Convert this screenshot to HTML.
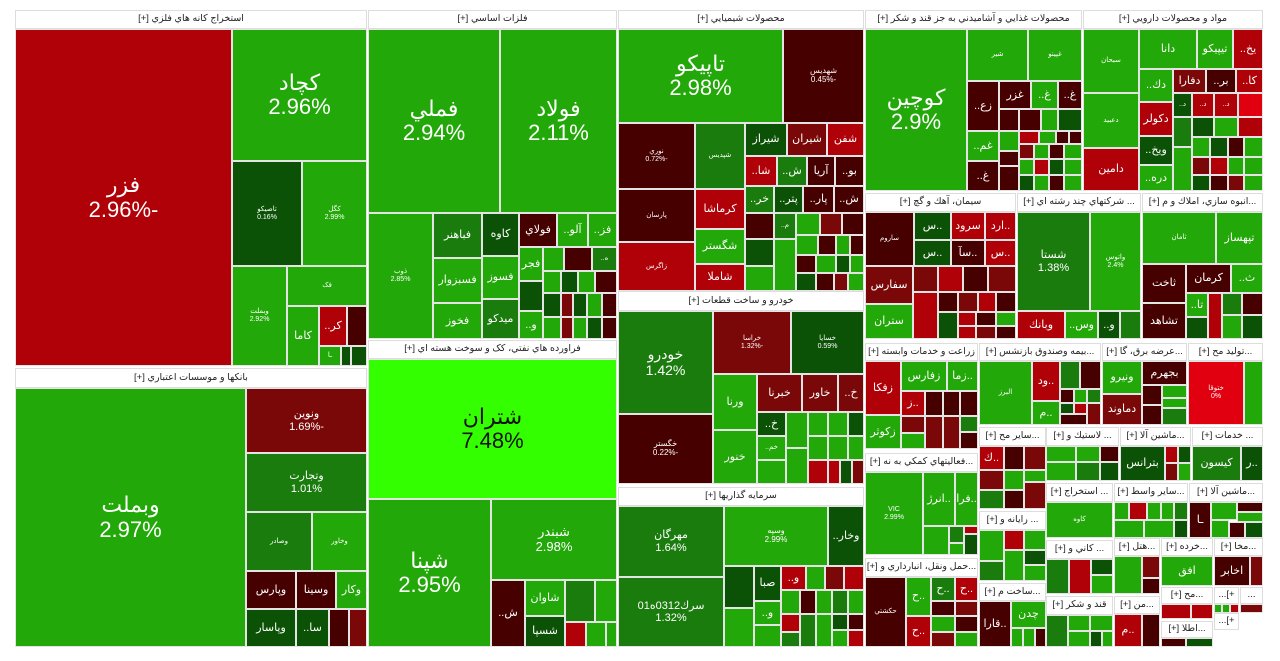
<!DOCTYPE html>
<html><head><meta charset="utf-8">
<style>
body{margin:0;width:1280px;height:661px;background:#fff;position:relative;overflow:hidden}
.c{position:absolute;box-sizing:border-box;border:1px solid #e4e4e4;color:#fff;display:flex;flex-direction:column;align-items:center;justify-content:center;text-align:center;font-family:"Liberation Sans","DejaVu Sans",sans-serif;overflow:hidden;line-height:1.1;font-size:10px;direction:rtl}
.h{background:#fff;color:#222;border:1px solid #ddd;font-size:9.5px}
.g{background:#22a808}.g2{background:#1b7c0e}.g3{background:#0c5206}
.r{background:#b00008}.r2{background:#7a0808}.r3{background:#460000}
.lg{background:#33ff00;color:#111}.rb{background:#e00010}
.b{font-size:22px}.m{font-size:11px}.s{font-size:7px}
</style></head><body>
<!-- column 1 -->
<div class="c h" style="left:15px;top:10px;width:352px;height:19px">استخراج کانه هاي فلزي [+]</div>
<div class="c r b" style="left:15px;top:29px;width:217px;height:337px">فزر<br>-2.96%</div>
<div class="c g b" style="left:232px;top:29px;width:135px;height:132px">کچاد<br>2.96%</div>
<div class="c g3 s" style="left:232px;top:161px;width:70px;height:105px">تاصيکو<br>0.16%</div>
<div class="c g s" style="left:302px;top:161px;width:65px;height:105px">کگل<br>2.99%</div>
<div class="c g s" style="left:232px;top:266px;width:55px;height:100px">وبملت<br>2.92%</div>
<div class="c g s" style="left:287px;top:266px;width:80px;height:40px">فک</div>
<div class="c g m" style="left:287px;top:306px;width:32px;height:60px">کاما</div>
<div class="c r m" style="left:319px;top:306px;width:28px;height:40px">کر..</div>
<div class="c r3" style="left:347px;top:306px;width:20px;height:40px"></div>
<div class="c g s" style="left:319px;top:346px;width:22px;height:20px">ـا</div>
<div class="c g3" style="left:341px;top:346px;width:10px;height:20px"></div>
<div class="c g3" style="left:351px;top:346px;width:16px;height:20px"></div>

<div class="c h" style="left:15px;top:368px;width:352px;height:20px">بانکها و موسسات اعتباري [+]</div>
<div class="c g b" style="left:15px;top:388px;width:231px;height:259px">وبملت<br>2.97%</div>
<div class="c r2 m" style="left:246px;top:388px;width:121px;height:65px">ونوين<br>-1.69%</div>
<div class="c g2 m" style="left:246px;top:453px;width:121px;height:59px">وتجارت<br>1.01%</div>
<div class="c g2 s" style="left:246px;top:512px;width:66px;height:59px">وصادر</div>
<div class="c g s" style="left:312px;top:512px;width:55px;height:59px">وخاور</div>
<div class="c r3 m" style="left:246px;top:571px;width:50px;height:38px">وپارس</div>
<div class="c r3 m" style="left:296px;top:571px;width:40px;height:38px">وسينا</div>
<div class="c g m" style="left:336px;top:571px;width:31px;height:38px">وکار</div>
<div class="c g3 m" style="left:246px;top:609px;width:50px;height:38px">وپاسار</div>
<div class="c g3 m" style="left:296px;top:609px;width:33px;height:38px">سا..</div>
<div class="c r3" style="left:329px;top:609px;width:20px;height:38px"></div>
<div class="c r2" style="left:349px;top:609px;width:18px;height:38px"></div>

<!-- column 2 -->
<div class="c h" style="left:368px;top:10px;width:249px;height:19px">فلزات اساسي [+]</div>
<div class="c g b" style="left:368px;top:29px;width:132px;height:184px">فملي<br>2.94%</div>
<div class="c g b" style="left:500px;top:29px;width:117px;height:184px">فولاد<br>2.11%</div>
<div class="c g s" style="left:368px;top:213px;width:65px;height:126px">ذوب<br>2.85%</div>
<div class="c g2 m" style="left:433px;top:213px;width:49px;height:45px">فباهنر</div>
<div class="c g m" style="left:433px;top:258px;width:49px;height:45px">فسبزوار</div>
<div class="c g m" style="left:433px;top:303px;width:49px;height:36px">فخوز</div>
<div class="c g3 m" style="left:482px;top:213px;width:37px;height:43px">کاوه</div>
<div class="c g m" style="left:482px;top:256px;width:37px;height:43px">فسوز</div>
<div class="c g2 m" style="left:482px;top:299px;width:37px;height:40px">ميدکو</div>
<div class="c r3 m" style="left:519px;top:213px;width:38px;height:34px">فولاي</div>
<div class="c g m" style="left:557px;top:213px;width:31px;height:34px">آلو..</div>
<div class="c g m" style="left:588px;top:213px;width:29px;height:34px">فز..</div>
<div class="c g m" style="left:519px;top:247px;width:24px;height:34px">فجر</div>
<div class="c g" style="left:543px;top:247px;width:21px;height:24px"></div>
<div class="c r3" style="left:564px;top:247px;width:28px;height:24px"></div>
<div class="c g2 s" style="left:592px;top:247px;width:25px;height:24px">ه..</div>
<div class="c g3" style="left:519px;top:281px;width:24px;height:30px"></div>
<div class="c g m" style="left:519px;top:311px;width:24px;height:28px">و..</div>
<div class="c g" style="left:543px;top:271px;width:18px;height:22px"></div>
<div class="c g3" style="left:561px;top:271px;width:17px;height:22px"></div>
<div class="c g" style="left:578px;top:271px;width:17px;height:22px"></div>
<div class="c r3" style="left:595px;top:271px;width:22px;height:22px"></div>
<div class="c g3" style="left:543px;top:293px;width:18px;height:24px"></div>
<div class="c r2" style="left:561px;top:293px;width:12px;height:24px"></div>
<div class="c g3" style="left:573px;top:293px;width:14px;height:24px"></div>
<div class="c g" style="left:587px;top:293px;width:15px;height:24px"></div>
<div class="c r3" style="left:602px;top:293px;width:15px;height:24px"></div>
<div class="c g" style="left:543px;top:317px;width:18px;height:22px"></div>
<div class="c r2" style="left:561px;top:317px;width:12px;height:22px"></div>
<div class="c g" style="left:573px;top:317px;width:14px;height:22px"></div>
<div class="c g3" style="left:587px;top:317px;width:15px;height:22px"></div>
<div class="c r3" style="left:602px;top:317px;width:15px;height:22px"></div>

<div class="c h" style="left:368px;top:340px;width:249px;height:19px">فراورده هاي نفتي، کک و سوخت هسته اي [+]</div>
<div class="c lg b" style="left:368px;top:359px;width:249px;height:140px">شتران<br>7.48%</div>
<div class="c g b" style="left:368px;top:499px;width:123px;height:148px">شپنا<br>2.95%</div>
<div class="c g" style="left:491px;top:499px;width:126px;height:81px;font-size:13px">شبندر<br>2.98%</div>
<div class="c r3 m" style="left:491px;top:580px;width:34px;height:67px">ش..</div>
<div class="c g m" style="left:525px;top:580px;width:40px;height:36px">شاوان</div>
<div class="c g3 m" style="left:525px;top:616px;width:40px;height:31px">شسپا</div>
<div class="c g2" style="left:565px;top:580px;width:30px;height:42px"></div>
<div class="c g" style="left:595px;top:580px;width:22px;height:42px"></div>
<div class="c r" style="left:565px;top:622px;width:21px;height:25px"></div>
<div class="c g" style="left:586px;top:622px;width:20px;height:25px"></div>
<div class="c g" style="left:606px;top:622px;width:11px;height:25px"></div>

<!-- column 3 -->
<div class="c h" style="left:618px;top:10px;width:246px;height:19px">محصولات شيميايي [+]</div>
<div class="c g b" style="left:618px;top:29px;width:165px;height:94px">تاپيکو<br>2.98%</div>
<div class="c r3 s" style="left:783px;top:29px;width:81px;height:94px;font-size:8px">شهديس<br>-0.45%</div>
<div class="c r3 s" style="left:618px;top:123px;width:77px;height:66px">نوري<br>-0.72%</div>
<div class="c r3 s" style="left:618px;top:189px;width:77px;height:53px">پارسان</div>
<div class="c r s" style="left:618px;top:242px;width:77px;height:49px">زاگرس</div>
<div class="c g2 s" style="left:695px;top:123px;width:50px;height:66px">شپديس</div>
<div class="c r m" style="left:695px;top:189px;width:50px;height:40px">کرماشا</div>
<div class="c g m" style="left:695px;top:229px;width:50px;height:35px">شگستر</div>
<div class="c r m" style="left:695px;top:264px;width:50px;height:27px">شاملا</div>
<div class="c g3 m" style="left:745px;top:123px;width:42px;height:33px">شيراز</div>
<div class="c r2 m" style="left:787px;top:123px;width:40px;height:33px">شيران</div>
<div class="c r m" style="left:827px;top:123px;width:37px;height:33px">شفن</div>
<div class="c r m" style="left:745px;top:156px;width:32px;height:30px">شا..</div>
<div class="c g2 m" style="left:777px;top:156px;width:30px;height:30px">ش..</div>
<div class="c r3 m" style="left:807px;top:156px;width:28px;height:30px">آريا</div>
<div class="c r3 m" style="left:835px;top:156px;width:29px;height:30px">بو..</div>
<div class="c g2 m" style="left:745px;top:186px;width:29px;height:27px">خر..</div>
<div class="c g3 m" style="left:774px;top:186px;width:29px;height:27px">پتر..</div>
<div class="c r3 m" style="left:803px;top:186px;width:31px;height:27px">پار..</div>
<div class="c r3 m" style="left:834px;top:186px;width:30px;height:27px">ش..</div>
<div class="c r3" style="left:745px;top:213px;width:29px;height:26px"></div>
<div class="c g2 s" style="left:774px;top:213px;width:22px;height:26px">م..</div>
<div class="c g" style="left:796px;top:213px;width:24px;height:22px"></div>
<div class="c r2" style="left:820px;top:213px;width:22px;height:22px"></div>
<div class="c r3" style="left:842px;top:213px;width:22px;height:22px"></div>
<div class="c g3" style="left:745px;top:239px;width:29px;height:27px"></div>
<div class="c g" style="left:745px;top:266px;width:29px;height:25px"></div>
<div class="c g" style="left:774px;top:239px;width:22px;height:52px"></div>
<div class="c g" style="left:796px;top:235px;width:22px;height:20px"></div>
<div class="c r3" style="left:818px;top:235px;width:18px;height:20px"></div>
<div class="c g" style="left:836px;top:235px;width:14px;height:20px"></div>
<div class="c r3" style="left:850px;top:235px;width:14px;height:20px"></div>
<div class="c r3" style="left:796px;top:255px;width:20px;height:18px"></div>
<div class="c g" style="left:816px;top:255px;width:20px;height:18px"></div>
<div class="c g3" style="left:836px;top:255px;width:14px;height:18px"></div>
<div class="c g" style="left:850px;top:255px;width:14px;height:18px"></div>
<div class="c g3" style="left:796px;top:273px;width:20px;height:18px"></div>
<div class="c r3" style="left:816px;top:273px;width:18px;height:18px"></div>
<div class="c r2" style="left:834px;top:273px;width:14px;height:18px"></div>
<div class="c g" style="left:848px;top:273px;width:16px;height:18px"></div>

<div class="c h" style="left:618px;top:291px;width:246px;height:20px">خودرو و ساخت قطعات [+]</div>
<div class="c g2" style="left:618px;top:311px;width:95px;height:103px;font-size:14px">خودرو<br>1.42%</div>
<div class="c r3 s" style="left:618px;top:414px;width:95px;height:70px;font-size:8px">خگستر<br>-0.22%</div>
<div class="c r2 s" style="left:713px;top:311px;width:78px;height:63px">خراسا<br>-1.32%</div>
<div class="c g3 s" style="left:791px;top:311px;width:73px;height:63px">خسايا<br>0.59%</div>
<div class="c g m" style="left:713px;top:374px;width:44px;height:56px">ورنا</div>
<div class="c g m" style="left:713px;top:430px;width:44px;height:54px">خنور</div>
<div class="c r2 m" style="left:757px;top:374px;width:45px;height:38px">خبرنا</div>
<div class="c r2 m" style="left:802px;top:374px;width:36px;height:38px">خاور</div>
<div class="c r2 m" style="left:838px;top:374px;width:26px;height:38px">خ..</div>
<div class="c g3 m" style="left:757px;top:412px;width:29px;height:24px">خ..</div>
<div class="c g s" style="left:757px;top:436px;width:29px;height:24px">خم..</div>
<div class="c g" style="left:757px;top:460px;width:29px;height:24px"></div>
<div class="c g" style="left:786px;top:412px;width:22px;height:36px"></div>
<div class="c g" style="left:808px;top:412px;width:20px;height:24px"></div>
<div class="c g" style="left:828px;top:412px;width:20px;height:24px"></div>
<div class="c g3" style="left:848px;top:412px;width:16px;height:24px"></div>
<div class="c g" style="left:808px;top:436px;width:20px;height:24px"></div>
<div class="c g" style="left:828px;top:436px;width:20px;height:24px"></div>
<div class="c g" style="left:848px;top:436px;width:16px;height:24px"></div>
<div class="c g" style="left:786px;top:448px;width:22px;height:36px"></div>
<div class="c r" style="left:808px;top:460px;width:20px;height:24px"></div>
<div class="c r" style="left:828px;top:460px;width:12px;height:24px"></div>
<div class="c g3" style="left:840px;top:460px;width:12px;height:24px"></div>
<div class="c r2" style="left:852px;top:460px;width:12px;height:24px"></div>

<div class="c h" style="left:618px;top:487px;width:246px;height:19px">سرمايه گذاريها [+]</div>
<div class="c g2" style="left:618px;top:506px;width:106px;height:71px;font-size:11px">مهرگان<br>1.64%</div>
<div class="c g2" style="left:618px;top:577px;width:106px;height:70px;font-size:11px">سرك0312ه01<br>1.32%</div>
<div class="c g s" style="left:724px;top:506px;width:104px;height:60px;font-size:8px">وسپه<br>2.99%</div>
<div class="c g3 m" style="left:828px;top:506px;width:36px;height:60px">وخار..</div>
<div class="c g3" style="left:724px;top:566px;width:30px;height:42px"></div>
<div class="c g" style="left:724px;top:608px;width:30px;height:39px"></div>
<div class="c g3 m" style="left:754px;top:566px;width:27px;height:35px">صبا</div>
<div class="c g m" style="left:754px;top:601px;width:27px;height:24px">و..</div>
<div class="c g" style="left:754px;top:625px;width:27px;height:22px"></div>
<div class="c r m" style="left:781px;top:566px;width:25px;height:24px">و..</div>
<div class="c g" style="left:806px;top:566px;width:19px;height:24px"></div>
<div class="c r2" style="left:825px;top:566px;width:19px;height:24px"></div>
<div class="c r" style="left:844px;top:566px;width:20px;height:24px"></div>
<div class="c g" style="left:781px;top:590px;width:19px;height:24px"></div>
<div class="c r3" style="left:800px;top:590px;width:16px;height:24px"></div>
<div class="c g" style="left:816px;top:590px;width:16px;height:24px"></div>
<div class="c g2" style="left:832px;top:590px;width:16px;height:24px"></div>
<div class="c g" style="left:848px;top:590px;width:16px;height:24px"></div>
<div class="c r" style="left:781px;top:614px;width:19px;height:18px"></div>
<div class="c g2" style="left:781px;top:632px;width:19px;height:15px"></div>
<div class="c g2" style="left:800px;top:614px;width:16px;height:33px"></div>
<div class="c g" style="left:816px;top:614px;width:16px;height:33px"></div>
<div class="c g3" style="left:832px;top:614px;width:16px;height:16px"></div>
<div class="c r3" style="left:848px;top:614px;width:16px;height:16px"></div>
<div class="c g" style="left:832px;top:630px;width:16px;height:17px"></div>
<div class="c r" style="left:848px;top:630px;width:16px;height:17px"></div>

<!-- column 4 row A -->
<div class="c h" style="left:865px;top:10px;width:217px;height:19px">محصولات غذايي و آشاميدني به جز قند و شکر [+]</div>
<div class="c g b" style="left:865px;top:29px;width:102px;height:162px">کوچين<br>2.9%</div>
<div class="c g s" style="left:967px;top:29px;width:61px;height:52px">شير</div>
<div class="c g s" style="left:1028px;top:29px;width:54px;height:52px">غپينو</div>
<div class="c r3 m" style="left:967px;top:81px;width:32px;height:50px">زع..</div>
<div class="c g m" style="left:967px;top:131px;width:32px;height:30px">غم..</div>
<div class="c r3 m" style="left:967px;top:161px;width:32px;height:30px">غ..</div>
<div class="c r3 m" style="left:999px;top:81px;width:32px;height:28px">غزر</div>
<div class="c g m" style="left:1031px;top:81px;width:27px;height:28px">غ..</div>
<div class="c r3 m" style="left:1058px;top:81px;width:24px;height:28px">غ..</div>
<div class="c r3" style="left:999px;top:109px;width:20px;height:22px"></div>
<div class="c r3" style="left:1019px;top:109px;width:22px;height:22px"></div>
<div class="c g" style="left:1041px;top:109px;width:17px;height:22px"></div>
<div class="c g3" style="left:1058px;top:109px;width:24px;height:22px"></div>
<div class="c g" style="left:999px;top:131px;width:20px;height:20px"></div>
<div class="c r" style="left:1019px;top:131px;width:20px;height:13px"></div>
<div class="c g" style="left:1039px;top:131px;width:17px;height:13px"></div>
<div class="c r3" style="left:1056px;top:131px;width:13px;height:13px"></div>
<div class="c r3" style="left:1069px;top:131px;width:13px;height:13px"></div>
<div class="c r3" style="left:999px;top:151px;width:20px;height:15px"></div>
<div class="c r3" style="left:999px;top:166px;width:20px;height:25px"></div>
<div class="c r2" style="left:1019px;top:144px;width:15px;height:15px"></div>
<div class="c g" style="left:1034px;top:144px;width:15px;height:15px"></div>
<div class="c r3" style="left:1049px;top:144px;width:15px;height:15px"></div>
<div class="c g" style="left:1064px;top:144px;width:18px;height:15px"></div>
<div class="c g" style="left:1019px;top:159px;width:15px;height:16px"></div>
<div class="c r" style="left:1034px;top:159px;width:15px;height:16px"></div>
<div class="c g3" style="left:1049px;top:159px;width:15px;height:16px"></div>
<div class="c g" style="left:1064px;top:159px;width:18px;height:16px"></div>
<div class="c g3" style="left:1019px;top:175px;width:15px;height:16px"></div>
<div class="c g" style="left:1034px;top:175px;width:15px;height:16px"></div>
<div class="c r3" style="left:1049px;top:175px;width:15px;height:16px"></div>
<div class="c g" style="left:1064px;top:175px;width:18px;height:16px"></div>

<div class="c h" style="left:1083px;top:10px;width:180px;height:19px">مواد و محصولات دارويي [+]</div>
<div class="c g s" style="left:1083px;top:29px;width:56px;height:64px">سبحان</div>
<div class="c g s" style="left:1083px;top:93px;width:56px;height:55px">دعبيد</div>
<div class="c r m" style="left:1083px;top:148px;width:56px;height:43px">دامين</div>
<div class="c g m" style="left:1139px;top:29px;width:58px;height:40px">دانا</div>
<div class="c g m" style="left:1139px;top:69px;width:34px;height:33px">دك..</div>
<div class="c r m" style="left:1139px;top:102px;width:34px;height:34px">دکولر</div>
<div class="c g3 m" style="left:1139px;top:136px;width:34px;height:29px">ويخ..</div>
<div class="c g m" style="left:1139px;top:165px;width:34px;height:26px">دره..</div>
<div class="c g m" style="left:1197px;top:29px;width:36px;height:40px">تيپيکو</div>
<div class="c r m" style="left:1233px;top:29px;width:30px;height:40px">يخ..</div>
<div class="c r2 m" style="left:1173px;top:69px;width:33px;height:24px">دفارا</div>
<div class="c r3 m" style="left:1206px;top:69px;width:30px;height:24px">بر..</div>
<div class="c r m" style="left:1236px;top:69px;width:27px;height:24px">کا..</div>
<div class="c g3 s" style="left:1173px;top:93px;width:19px;height:24px">د..</div>
<div class="c r s" style="left:1192px;top:93px;width:22px;height:24px">د..</div>
<div class="c r s" style="left:1214px;top:93px;width:24px;height:24px">د..</div>
<div class="c rb" style="left:1238px;top:93px;width:25px;height:24px"></div>
<div class="c g2" style="left:1173px;top:117px;width:19px;height:30px"></div>
<div class="c g3" style="left:1192px;top:117px;width:22px;height:20px"></div>
<div class="c g" style="left:1214px;top:117px;width:24px;height:20px"></div>
<div class="c r" style="left:1238px;top:117px;width:25px;height:20px"></div>
<div class="c g" style="left:1192px;top:137px;width:18px;height:20px"></div>
<div class="c g3" style="left:1210px;top:137px;width:18px;height:20px"></div>
<div class="c r3" style="left:1228px;top:137px;width:16px;height:20px"></div>
<div class="c g" style="left:1244px;top:137px;width:19px;height:20px"></div>
<div class="c g" style="left:1173px;top:147px;width:19px;height:44px"></div>
<div class="c r2" style="left:1192px;top:157px;width:18px;height:18px"></div>
<div class="c r" style="left:1210px;top:157px;width:18px;height:18px"></div>
<div class="c g" style="left:1228px;top:157px;width:16px;height:18px"></div>
<div class="c g" style="left:1244px;top:157px;width:19px;height:18px"></div>
<div class="c g3" style="left:1192px;top:175px;width:18px;height:16px"></div>
<div class="c r3" style="left:1210px;top:175px;width:18px;height:16px"></div>
<div class="c r2" style="left:1228px;top:175px;width:16px;height:16px"></div>
<div class="c g" style="left:1244px;top:175px;width:19px;height:16px"></div>

<!-- row B -->
<div class="c h" style="left:865px;top:193px;width:151px;height:19px">سيمان، آهك و گچ [+]</div>
<div class="c r3 s" style="left:865px;top:212px;width:49px;height:54px">ساروم</div>
<div class="c g3 m" style="left:914px;top:212px;width:37px;height:28px">..س</div>
<div class="c g3 m" style="left:914px;top:240px;width:37px;height:26px">..س</div>
<div class="c r m" style="left:951px;top:212px;width:34px;height:28px">سرود</div>
<div class="c r3 m" style="left:951px;top:240px;width:34px;height:26px">..سآ</div>
<div class="c r m" style="left:985px;top:212px;width:31px;height:28px">..ارد</div>
<div class="c r m" style="left:985px;top:240px;width:31px;height:26px">..س</div>
<div class="c r2 m" style="left:865px;top:266px;width:48px;height:38px">سفارس</div>
<div class="c g m" style="left:865px;top:304px;width:48px;height:35px">ستران</div>
<div class="c r2" style="left:913px;top:266px;width:25px;height:26px"></div>
<div class="c r" style="left:938px;top:266px;width:25px;height:26px"></div>
<div class="c r3" style="left:963px;top:266px;width:25px;height:26px"></div>
<div class="c r2" style="left:988px;top:266px;width:28px;height:26px"></div>
<div class="c r" style="left:913px;top:292px;width:25px;height:47px"></div>
<div class="c r3" style="left:938px;top:292px;width:20px;height:20px"></div>
<div class="c r2" style="left:958px;top:292px;width:20px;height:20px"></div>
<div class="c r" style="left:978px;top:292px;width:18px;height:20px"></div>
<div class="c r3" style="left:996px;top:292px;width:20px;height:20px"></div>
<div class="c g3" style="left:938px;top:312px;width:20px;height:27px"></div>
<div class="c r" style="left:958px;top:312px;width:18px;height:14px"></div>
<div class="c r3" style="left:976px;top:312px;width:20px;height:14px"></div>
<div class="c g" style="left:996px;top:312px;width:20px;height:14px"></div>
<div class="c r" style="left:958px;top:326px;width:18px;height:13px"></div>
<div class="c r2" style="left:976px;top:326px;width:20px;height:13px"></div>
<div class="c r3" style="left:996px;top:326px;width:20px;height:13px"></div>

<div class="c h" style="left:1017px;top:193px;width:124px;height:19px">... شرکتهاي چند رشته اي [+]</div>
<div class="c g2 m" style="left:1017px;top:212px;width:73px;height:99px">شستا<br>1.38%</div>
<div class="c g s" style="left:1090px;top:212px;width:51px;height:99px">واتوس<br>2.4%</div>
<div class="c r m" style="left:1017px;top:311px;width:48px;height:28px">وبانك</div>
<div class="c g m" style="left:1065px;top:311px;width:33px;height:28px">وس..</div>
<div class="c g3 m" style="left:1098px;top:311px;width:22px;height:28px">و..</div>
<div class="c g2" style="left:1120px;top:311px;width:21px;height:28px"></div>

<div class="c h" style="left:1142px;top:193px;width:121px;height:19px">...انبوه سازي، املاك و م [+]</div>
<div class="c g s" style="left:1142px;top:212px;width:74px;height:52px">ثامان</div>
<div class="c g m" style="left:1216px;top:212px;width:47px;height:52px">تپهساز</div>
<div class="c r3 m" style="left:1142px;top:264px;width:44px;height:39px">ثاخت</div>
<div class="c r3 m" style="left:1142px;top:303px;width:44px;height:36px">تشاهد</div>
<div class="c r3 m" style="left:1186px;top:264px;width:45px;height:29px">كرمان</div>
<div class="c g m" style="left:1231px;top:264px;width:32px;height:29px">ث..</div>
<div class="c g m" style="left:1186px;top:293px;width:22px;height:24px">تا..</div>
<div class="c g3" style="left:1186px;top:317px;width:22px;height:22px"></div>
<div class="c r" style="left:1208px;top:293px;width:14px;height:46px"></div>
<div class="c g2" style="left:1222px;top:293px;width:20px;height:22px"></div>
<div class="c r3" style="left:1242px;top:293px;width:21px;height:22px"></div>
<div class="c g" style="left:1222px;top:315px;width:20px;height:24px"></div>
<div class="c g3" style="left:1242px;top:315px;width:21px;height:24px"></div>

<!-- row C left: زراعت, فعالیتها, حمل -->
<div class="c h" style="left:865px;top:343px;width:113px;height:18px">زراعت و خدمات وابسته [+]</div>
<div class="c r m" style="left:865px;top:361px;width:36px;height:54px">زفکا</div>
<div class="c g m" style="left:865px;top:415px;width:36px;height:34px">زکوثر</div>
<div class="c g m" style="left:901px;top:361px;width:46px;height:30px">زفارس</div>
<div class="c g m" style="left:947px;top:361px;width:31px;height:30px">..زما</div>
<div class="c r m" style="left:901px;top:391px;width:24px;height:25px">..ز</div>
<div class="c r3" style="left:925px;top:391px;width:18px;height:25px"></div>
<div class="c r3" style="left:943px;top:391px;width:17px;height:25px"></div>
<div class="c r3" style="left:960px;top:391px;width:18px;height:25px"></div>
<div class="c r2" style="left:901px;top:416px;width:24px;height:17px"></div>
<div class="c g" style="left:901px;top:433px;width:24px;height:16px"></div>
<div class="c r2" style="left:925px;top:416px;width:18px;height:33px"></div>
<div class="c r2" style="left:943px;top:416px;width:17px;height:33px"></div>
<div class="c g2" style="left:960px;top:416px;width:18px;height:16px"></div>
<div class="c r3" style="left:960px;top:432px;width:18px;height:17px"></div>

<div class="c h" style="left:865px;top:453px;width:113px;height:19px">...فعاليتهاي کمکي به نه [+]</div>
<div class="c g s" style="left:865px;top:472px;width:58px;height:83px">VIC<br>2.99%</div>
<div class="c g m" style="left:923px;top:472px;width:32px;height:54px">..انرژ</div>
<div class="c g m" style="left:955px;top:472px;width:23px;height:54px">..فرا</div>
<div class="c g" style="left:923px;top:526px;width:26px;height:29px"></div>
<div class="c g2" style="left:949px;top:526px;width:15px;height:17px"></div>
<div class="c r" style="left:964px;top:526px;width:14px;height:8px"></div>
<div class="c g3" style="left:964px;top:534px;width:14px;height:21px"></div>
<div class="c g" style="left:949px;top:543px;width:15px;height:12px"></div>

<div class="c h" style="left:865px;top:558px;width:113px;height:19px">...حمل ونقل، انبارداري و [+]</div>
<div class="c r3 s" style="left:865px;top:577px;width:41px;height:70px">حکشتي</div>
<div class="c g m" style="left:906px;top:577px;width:25px;height:39px">..ح</div>
<div class="c g2 m" style="left:931px;top:577px;width:24px;height:24px">..ح</div>
<div class="c r m" style="left:955px;top:577px;width:23px;height:24px">..ح</div>
<div class="c r3" style="left:931px;top:601px;width:24px;height:15px"></div>
<div class="c r2" style="left:955px;top:601px;width:23px;height:15px"></div>
<div class="c r m" style="left:906px;top:616px;width:25px;height:31px">..ح</div>
<div class="c g" style="left:931px;top:616px;width:24px;height:16px"></div>
<div class="c r3" style="left:955px;top:616px;width:23px;height:16px"></div>
<div class="c r2" style="left:931px;top:632px;width:24px;height:15px"></div>
<div class="c g" style="left:955px;top:632px;width:23px;height:15px"></div>

<!-- بیمه column -->
<div class="c h" style="left:979px;top:343px;width:122px;height:18px">...بيمه وصندوق بازنشس [+]</div>
<div class="c g s" style="left:979px;top:361px;width:53px;height:64px">البرز</div>
<div class="c r m" style="left:1032px;top:361px;width:28px;height:40px">..ود</div>
<div class="c g m" style="left:1032px;top:401px;width:28px;height:24px">..م</div>
<div class="c g2" style="left:1060px;top:361px;width:20px;height:28px"></div>
<div class="c r3" style="left:1080px;top:361px;width:21px;height:28px"></div>
<div class="c r3" style="left:1060px;top:389px;width:14px;height:14px"></div>
<div class="c g" style="left:1074px;top:389px;width:13px;height:14px"></div>
<div class="c g2" style="left:1087px;top:389px;width:14px;height:14px"></div>
<div class="c g3" style="left:1060px;top:403px;width:14px;height:11px"></div>
<div class="c r" style="left:1074px;top:403px;width:13px;height:11px"></div>
<div class="c r2" style="left:1087px;top:403px;width:14px;height:22px"></div>
<div class="c r3" style="left:1060px;top:414px;width:27px;height:11px"></div>

<div class="c h" style="left:979px;top:427px;width:67px;height:19px">...ساير مح [+]</div>
<div class="c r m" style="left:979px;top:446px;width:25px;height:24px">..ك</div>
<div class="c r3" style="left:1004px;top:446px;width:20px;height:24px"></div>
<div class="c r2" style="left:1024px;top:446px;width:22px;height:24px"></div>
<div class="c r2" style="left:979px;top:470px;width:25px;height:20px"></div>
<div class="c g" style="left:1004px;top:470px;width:20px;height:20px"></div>
<div class="c g" style="left:1024px;top:470px;width:22px;height:12px"></div>
<div class="c g2" style="left:979px;top:490px;width:25px;height:19px"></div>
<div class="c r3" style="left:1004px;top:490px;width:20px;height:19px"></div>
<div class="c r2" style="left:1024px;top:482px;width:22px;height:27px"></div>

<div class="c h" style="left:979px;top:511px;width:67px;height:19px">... رايانه و [+]</div>
<div class="c g" style="left:979px;top:530px;width:25px;height:31px"></div>
<div class="c r" style="left:1004px;top:530px;width:20px;height:20px"></div>
<div class="c g" style="left:1024px;top:530px;width:22px;height:20px"></div>
<div class="c g2" style="left:979px;top:561px;width:25px;height:20px"></div>
<div class="c g" style="left:1004px;top:550px;width:20px;height:31px"></div>
<div class="c g3" style="left:1024px;top:550px;width:22px;height:15px"></div>
<div class="c g" style="left:1024px;top:565px;width:22px;height:16px"></div>

<div class="c h" style="left:979px;top:583px;width:67px;height:18px">...ساخت م [+]</div>
<div class="c r3 m" style="left:979px;top:601px;width:32px;height:46px">..قارا</div>
<div class="c g m" style="left:1011px;top:601px;width:35px;height:27px">چدن</div>
<div class="c g" style="left:1011px;top:628px;width:12px;height:19px"></div>
<div class="c g" style="left:1023px;top:628px;width:12px;height:19px"></div>
<div class="c r3" style="left:1035px;top:628px;width:11px;height:19px"></div>

<!-- right region -->
<div class="c h" style="left:1102px;top:343px;width:85px;height:18px">...عرضه برق، گا [+]</div>
<div class="c g m" style="left:1102px;top:361px;width:40px;height:33px">ونيرو</div>
<div class="c r2 m" style="left:1102px;top:394px;width:40px;height:31px">دماوند</div>
<div class="c r3 m" style="left:1142px;top:361px;width:45px;height:24px">بجهرم</div>
<div class="c r3" style="left:1142px;top:385px;width:20px;height:20px"></div>
<div class="c g" style="left:1162px;top:385px;width:25px;height:13px"></div>
<div class="c g" style="left:1162px;top:398px;width:25px;height:10px"></div>
<div class="c r3" style="left:1142px;top:405px;width:20px;height:20px"></div>
<div class="c g2" style="left:1162px;top:408px;width:25px;height:17px"></div>

<div class="c h" style="left:1188px;top:343px;width:75px;height:18px">...توليد مح [+]</div>
<div class="c rb s" style="left:1188px;top:361px;width:56px;height:64px">ختوقا<br>0%</div>
<div class="c g" style="left:1244px;top:361px;width:19px;height:64px"></div>

<div class="c h" style="left:1046px;top:427px;width:73px;height:19px">... لاستيك و [+]</div>
<div class="c g" style="left:1046px;top:446px;width:30px;height:16px"></div>
<div class="c g" style="left:1076px;top:446px;width:24px;height:16px"></div>
<div class="c r3" style="left:1100px;top:446px;width:19px;height:16px"></div>
<div class="c g" style="left:1046px;top:462px;width:30px;height:19px"></div>
<div class="c g2" style="left:1076px;top:462px;width:24px;height:19px"></div>
<div class="c g3" style="left:1100px;top:462px;width:19px;height:19px"></div>

<div class="c h" style="left:1120px;top:427px;width:71px;height:19px">...ماشين آلا [+]</div>
<div class="c g3 m" style="left:1120px;top:446px;width:45px;height:35px">بترانس</div>
<div class="c r" style="left:1165px;top:446px;width:13px;height:17px"></div>
<div class="c g3" style="left:1178px;top:446px;width:13px;height:17px"></div>
<div class="c r2" style="left:1165px;top:463px;width:13px;height:18px"></div>
<div class="c g" style="left:1178px;top:463px;width:13px;height:18px"></div>

<div class="c h" style="left:1192px;top:427px;width:71px;height:19px">... خدمات [+]</div>
<div class="c g2 m" style="left:1192px;top:446px;width:49px;height:35px">کيسون</div>
<div class="c g3 m" style="left:1241px;top:446px;width:22px;height:35px">..ر</div>

<div class="c h" style="left:1046px;top:483px;width:67px;height:19px">... استخراج [+]</div>
<div class="c g s" style="left:1046px;top:502px;width:67px;height:36px">کاوه</div>
<div class="c h" style="left:1114px;top:483px;width:74px;height:19px">...ساير واسط [+]</div>
<div class="c g" style="left:1114px;top:502px;width:15px;height:18px"></div>
<div class="c r" style="left:1129px;top:502px;width:18px;height:18px"></div>
<div class="c g" style="left:1147px;top:502px;width:14px;height:18px"></div>
<div class="c g" style="left:1161px;top:502px;width:13px;height:18px"></div>
<div class="c g2" style="left:1174px;top:502px;width:14px;height:18px"></div>
<div class="c g" style="left:1114px;top:520px;width:30px;height:18px"></div>
<div class="c g" style="left:1144px;top:520px;width:30px;height:18px"></div>
<div class="c g3" style="left:1174px;top:520px;width:14px;height:18px"></div>
<div class="c h" style="left:1189px;top:483px;width:74px;height:19px">...ماشين آلا [+]</div>
<div class="c r3 m" style="left:1189px;top:502px;width:22px;height:36px">ـا</div>
<div class="c g" style="left:1211px;top:502px;width:26px;height:18px"></div>
<div class="c r3" style="left:1237px;top:502px;width:26px;height:10px"></div>
<div class="c g" style="left:1237px;top:512px;width:26px;height:10px"></div>
<div class="c g" style="left:1211px;top:520px;width:18px;height:18px"></div>
<div class="c r3" style="left:1229px;top:522px;width:16px;height:16px"></div>
<div class="c g3" style="left:1245px;top:522px;width:18px;height:16px"></div>

<div class="c h" style="left:1046px;top:540px;width:67px;height:19px">... کاني و [+]</div>
<div class="c g2" style="left:1046px;top:559px;width:23px;height:35px"></div>
<div class="c r" style="left:1069px;top:559px;width:22px;height:35px"></div>
<div class="c g3" style="left:1091px;top:559px;width:22px;height:16px"></div>
<div class="c g" style="left:1091px;top:575px;width:22px;height:19px"></div>
<div class="c h" style="left:1046px;top:596px;width:67px;height:19px">قند و شکر [+]</div>
<div class="c g2" style="left:1046px;top:615px;width:22px;height:32px"></div>
<div class="c g" style="left:1068px;top:615px;width:22px;height:16px"></div>
<div class="c g" style="left:1090px;top:615px;width:23px;height:16px"></div>
<div class="c g" style="left:1068px;top:631px;width:22px;height:16px"></div>
<div class="c g3" style="left:1090px;top:631px;width:12px;height:16px"></div>
<div class="c g" style="left:1102px;top:631px;width:11px;height:16px"></div>

<div class="c h" style="left:1114px;top:538px;width:46px;height:18px">...هتل [+]</div>
<div class="c g" style="left:1114px;top:556px;width:28px;height:38px"></div>
<div class="c r2" style="left:1142px;top:556px;width:18px;height:22px"></div>
<div class="c r3" style="left:1142px;top:578px;width:18px;height:16px"></div>
<div class="c h" style="left:1114px;top:596px;width:46px;height:18px">...من [+]</div>
<div class="c r m" style="left:1114px;top:614px;width:28px;height:33px">..م</div>
<div class="c r3" style="left:1142px;top:614px;width:18px;height:33px"></div>

<div class="c h" style="left:1161px;top:538px;width:52px;height:18px">...خرده [+]</div>
<div class="c g m" style="left:1161px;top:556px;width:52px;height:30px">افق</div>
<div class="c h" style="left:1161px;top:587px;width:52px;height:17px">...مح [+]</div>
<div class="c r" style="left:1161px;top:604px;width:30px;height:15px"></div>
<div class="c r" style="left:1191px;top:604px;width:22px;height:15px"></div>
<div class="c h" style="left:1161px;top:621px;width:52px;height:17px">...اطلا [+]</div>
<div class="c r3" style="left:1161px;top:638px;width:25px;height:9px"></div>
<div class="c g3" style="left:1186px;top:638px;width:27px;height:9px"></div>

<div class="c h" style="left:1214px;top:538px;width:49px;height:18px">...مخا [+]</div>
<div class="c r3 m" style="left:1214px;top:556px;width:36px;height:30px">اخابر</div>
<div class="c r2" style="left:1250px;top:556px;width:13px;height:30px"></div>
<div class="c h" style="left:1214px;top:587px;width:25px;height:17px">+]...</div>
<div class="c h" style="left:1240px;top:587px;width:23px;height:17px">...</div>
<div class="c g" style="left:1214px;top:604px;width:8px;height:9px"></div>
<div class="c g" style="left:1222px;top:604px;width:8px;height:9px"></div>
<div class="c r" style="left:1230px;top:604px;width:9px;height:9px"></div>
<div class="c r2" style="left:1240px;top:604px;width:23px;height:9px"></div>
<div class="c h" style="left:1214px;top:613px;width:25px;height:17px">+]...</div>
</body></html>
